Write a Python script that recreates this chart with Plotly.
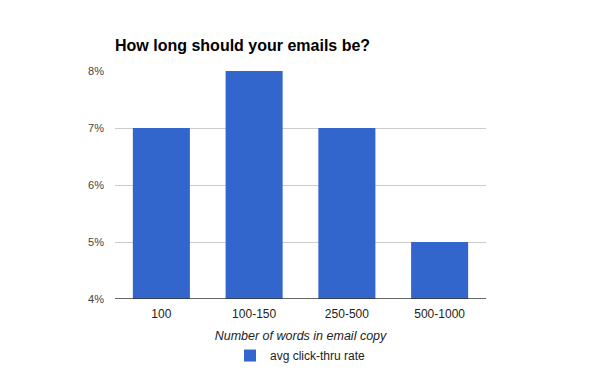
import plotly.graph_objects as go

categories = ["100", "100-150", "250-500", "500-1000"]
click_rate = [0.07, 0.08, 0.07, 0.05]
series_name = "avg click-thru rate"
y_ticks = [0.04, 0.05, 0.06, 0.07, 0.08]
y_tick_labels = ["4%", "5%", "6%", "7%", "8%"]

fig = go.Figure()
fig.add_trace(go.Bar(
    x=categories, y=click_rate, name=series_name,
    marker=dict(color="#3366CC", line=dict(width=0)),
    showlegend=True,
))

fig.update_layout(
    width=600, height=371,
    margin=dict(l=107, r=122, t=63, b=80, autoexpand=False),
    paper_bgcolor="white", plot_bgcolor="white",
    font=dict(family="Liberation Sans, Arial, sans-serif", size=11, color="#444444"),
    title=dict(text="<b>How long should your emails be?</b>",
               x=107/600, xanchor="left", y=1-37/371, yanchor="middle",
               font=dict(size=16, color="#000000")),
    bargap=0.385,
    showlegend=True,
    legend=dict(orientation="h", x=0.5, xanchor="center", y=-0.248, yanchor="middle",
                font=dict(size=12, color="#222222"), itemwidth=30),
    xaxis=dict(
        showgrid=False, showline=False, ticks="", zeroline=False, automargin=False,
        ticklabelstandoff=6,
        tickfont=dict(size=12, color="#222222"),
        title=dict(text="<i>Number of words in email copy</i>", standoff=11,
                   font=dict(size=12.5, color="#222222")),
    ),
    yaxis=dict(
        range=[0.04, 0.08], tickvals=y_ticks, ticktext=y_tick_labels,
        showgrid=True, gridcolor="#cccccc", gridwidth=1, automargin=False,
        zeroline=False, showline=False, ticks="",
        ticklabelstandoff=10,
        tickfont=dict(size=11, color="#444444"),
    ),
)
fig.add_shape(type="line", xref="paper", yref="y", x0=0, x1=1, y0=0.04, y1=0.04,
              line=dict(color="#333333", width=1.3))

fig.write_html("out.html")
